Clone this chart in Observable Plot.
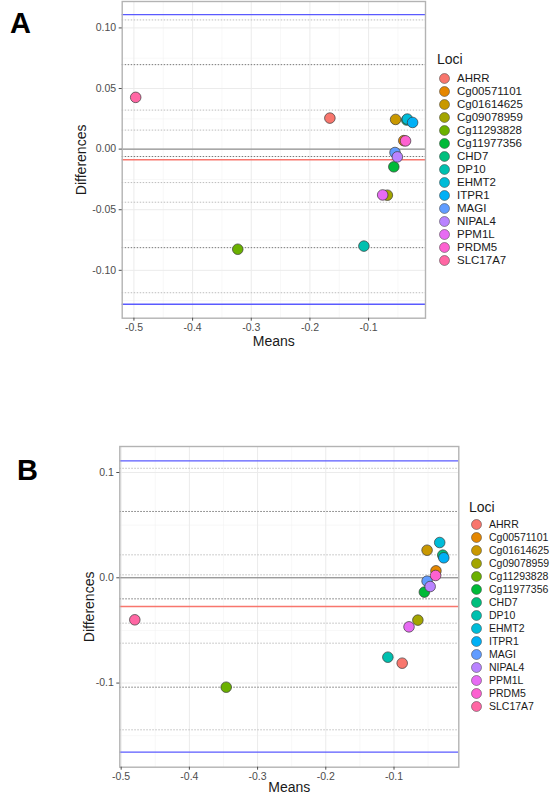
<!DOCTYPE html>
<html>
<head>
<meta charset="utf-8">
<script src="https://cdn.jsdelivr.net/npm/d3@7"></script>
<script src="https://cdn.jsdelivr.net/npm/@observablehq/plot@0.6"></script>
<style>
  html, body { margin: 0; padding: 0; background: #fff; }
  #root { position: relative; width: 552px; height: 794px; overflow: hidden; font-family: "Liberation Sans", Arial, sans-serif; }
  .abs { position: absolute; }
  .panel-label { font-family: "Liberation Sans", Arial, sans-serif; font-weight: bold; font-size: 29px; color: #000; line-height: 1; }
  .legend-title { font-size: 14px; color: #1a1a1a; line-height: 1; }
</style>
</head>
<body>
<div id="root"></div>
<script>
// ---------- data ----------
const loci = ["AHRR","Cg00571101","Cg01614625","Cg09078959","Cg11293828","Cg11977356","CHD7","DP10","EHMT2","ITPR1","MAGI","NIPAL4","PPM1L","PRDM5","SLC17A7"];
const lociColors = ["#F8766D","#E58700","#C99800","#A3A500","#6BB100","#00BA38","#00BF7D","#00C0AF","#00BCD8","#00B0F6","#619CFF","#B983FF","#E76BF3","#FD61D1","#FF67A4"];

// Panel A
const aMeans = [-0.166, -0.040, -0.054, -0.068, -0.323, -0.057, -0.035, -0.108, -0.034, -0.025, -0.055, -0.051, -0.076, -0.037, -0.497];
const aDiffs = [0.0256, 0.0070, 0.0245, -0.0380, -0.0826, -0.0146, 0.0240, -0.0800, 0.0248, 0.0220, -0.0028, -0.0064, -0.0378, 0.0068, 0.0427];
const aMeanDiff = -0.0088;
const aLimits = [0.111, -0.128];
const aDarkDotted = [0.0697, -0.0061, -0.0813];
const aLightDotted = [0.1066, 0.0322, 0.0157, -0.0276, -0.0438, -0.1185];
const aXTicks = [-0.5, -0.4, -0.3, -0.2, -0.1];
const aXMinor = [-0.45, -0.35, -0.25, -0.15, -0.05];
const aYTicks = [-0.10, -0.05, 0.00, 0.05, 0.10];
const aYMinor = [-0.125, -0.075, -0.025, 0.025, 0.075];

// Panel B
const bMeans = [-0.088, -0.0385, -0.0515, -0.065, -0.346, -0.0555, -0.0285, -0.109, -0.033, -0.027, -0.0515, -0.047, -0.078, -0.039, -0.480];
const bDiffs = [-0.0811, 0.0066, 0.0262, -0.0402, -0.1039, -0.0136, 0.0215, -0.0754, 0.0335, 0.0190, -0.0032, -0.0083, -0.0466, 0.0022, -0.0399];
const bMeanDiff = -0.0273;
const bLimits = [0.111, -0.1656];
const bDarkDotted = [0.063, -0.020, -0.1039];
const bLightDotted = [0.104, 0.0218, 0.0028, -0.0431, -0.0621, -0.1444];
const bXTicks = [-0.5, -0.4, -0.3, -0.2, -0.1];
const bXMinor = [-0.45, -0.35, -0.25, -0.15, -0.05];
const bYTicks = [-0.1, 0.0, 0.1];
const bYMinor = [-0.15, -0.05, 0.05];

// ---------- helpers ----------
const root = document.getElementById("root");
function place(el, left, top) {
  el.classList.add("abs");
  el.style.left = left + "px";
  el.style.top = top + "px";
  root.appendChild(el);
  return el;
}
function textDiv(txt, cls, left, top) {
  const d = document.createElement("div");
  d.className = cls;
  d.textContent = txt;
  return place(d, left, top);
}
const colorScale = {domain: loci, range: lociColors};

function blandAltman(cfg) {
  const rows = loci.map((l, i) => ({locus: l, mean: cfg.means[i], diff: cfg.diffs[i]}));
  return Plot.plot({
    width: cfg.width, height: cfg.height,
    marginLeft: cfg.ml, marginRight: cfg.mr, marginTop: cfg.mt, marginBottom: cfg.mb,
    style: {fontFamily: "Liberation Sans, Arial, sans-serif", background: "#fff", overflow: "visible"},
    x: {domain: cfg.xDomain},
    y: {domain: cfg.yDomain},
    color: colorScale,
    marks: [
      Plot.gridX(cfg.xMinor, {stroke: "#f2f2f2", strokeOpacity: 1, strokeWidth: 0.6}),
      Plot.gridY(cfg.yMinor, {stroke: "#f2f2f2", strokeOpacity: 1, strokeWidth: 0.6}),
      Plot.gridX(cfg.xTicks, {stroke: "#ebebeb", strokeOpacity: 1, strokeWidth: 1}),
      Plot.gridY(cfg.yTicks, {stroke: "#ebebeb", strokeOpacity: 1, strokeWidth: 1}),
      Plot.ruleY(cfg.lightDotted, {stroke: "#bdbdbd", strokeWidth: 1, strokeDasharray: "1.5,1.5"}),
      Plot.ruleY([0], {stroke: "#7a7a7a", strokeWidth: 1}),
      Plot.ruleY(cfg.darkDotted, {stroke: "#777", strokeWidth: 1, strokeDasharray: "1.5,1.5"}),
      Plot.ruleY([cfg.meanDiff], {stroke: "#F8766D", strokeWidth: 1.6}),
      Plot.ruleY(cfg.limits, {stroke: "#5a5aff", strokeWidth: 1.4}),
      Plot.dot(rows, {x: "mean", y: "diff", fill: "locus", r: 5.3, stroke: "#3a3a3a", strokeWidth: 0.7, fillOpacity: 1}),
      Plot.frame({stroke: "#b3b3b3", strokeWidth: 1.4}),
      Plot.axisX({ticks: cfg.xTicks, tickFormat: d => d.toFixed(1), tickSize: 3, tickPadding: 2, stroke: "#4d4d4d",
        fill: "#4d4d4d", fontSize: 10.5, label: null}),
      Plot.axisX({ticks: [], tickSize: 0, fontSize: 14, fill: "#1a1a1a", label: "Means", labelAnchor: "center", labelArrow: "none", labelOffset: cfg.xLabelOffset}),
      Plot.axisY({ticks: cfg.yTicks, tickFormat: d => d.toFixed(cfg.yDigits), tickSize: 3, tickPadding: 3, stroke: "#4d4d4d",
        fill: "#4d4d4d", fontSize: 10.5, label: null}),
      Plot.axisY({ticks: [], tickSize: 0, fontSize: 14, fill: "#1a1a1a", label: "Differences", labelAnchor: "center", labelArrow: "none", labelOffset: cfg.yLabelOffset})
    ]
  });
}

function legendPlot(fontSize) {
  return Plot.plot({
    width: 116, height: 196,
    marginLeft: 8, marginRight: 0, marginTop: 7, marginBottom: 7,
    style: {fontFamily: "Liberation Sans, Arial, sans-serif", background: "transparent"},
    x: {domain: [0, 108], axis: null},
    y: {type: "point", domain: loci, axis: null, padding: 0},
    color: colorScale,
    marks: [
      Plot.dot(loci, {x: () => 0, y: d => d, fill: d => d, r: 5, stroke: "#3a3a3a", strokeWidth: 0.5}),
      Plot.text(loci, {x: () => 0, y: d => d, text: d => d, dx: 12.5, textAnchor: "start", fontSize: fontSize, fill: "#1a1a1a"})
    ]
  });
}

// ---------- Panel A ----------
const plotA = blandAltman({
  means: aMeans, diffs: aDiffs, meanDiff: aMeanDiff, limits: aLimits,
  darkDotted: aDarkDotted, lightDotted: aLightDotted,
  xTicks: aXTicks, xMinor: aXMinor, yTicks: aYTicks, yMinor: aYMinor, yDigits: 2,
  width: 432, height: 348, ml: 121.7, mr: 7, mt: 1, mb: 30.3,
  xDomain: [-0.52, -0.003], yDomain: [-0.1395, 0.1218],
  xLabelOffset: 27.5, yLabelOffset: 46
});
place(plotA, 0, 0);
textDiv("A", "panel-label", 10, 9);
textDiv("Loci", "legend-title", 437, 52);
place(legendPlot(11.5), 436, 71.3);

// ---------- Panel B ----------
const plotB = blandAltman({
  means: bMeans, diffs: bDiffs, meanDiff: bMeanDiff, limits: bLimits,
  darkDotted: bDarkDotted, lightDotted: bLightDotted,
  xTicks: bXTicks, xMinor: bXMinor, yTicks: bYTicks, yMinor: bYMinor, yDigits: 1,
  width: 465, height: 374, ml: 119.3, mr: 6.7, mt: 26, mb: 27.3,
  xDomain: [-0.502, -0.005], yDomain: [-0.1799, 0.1247],
  xLabelOffset: 25, yLabelOffset: 36
});
place(plotB, 0, 420);
textDiv("B", "panel-label", 17, 456);
textDiv("Loci", "legend-title", 469, 500);
place(legendPlot(10.5), 467.7, 517.3);
</script>
</body>
</html>
